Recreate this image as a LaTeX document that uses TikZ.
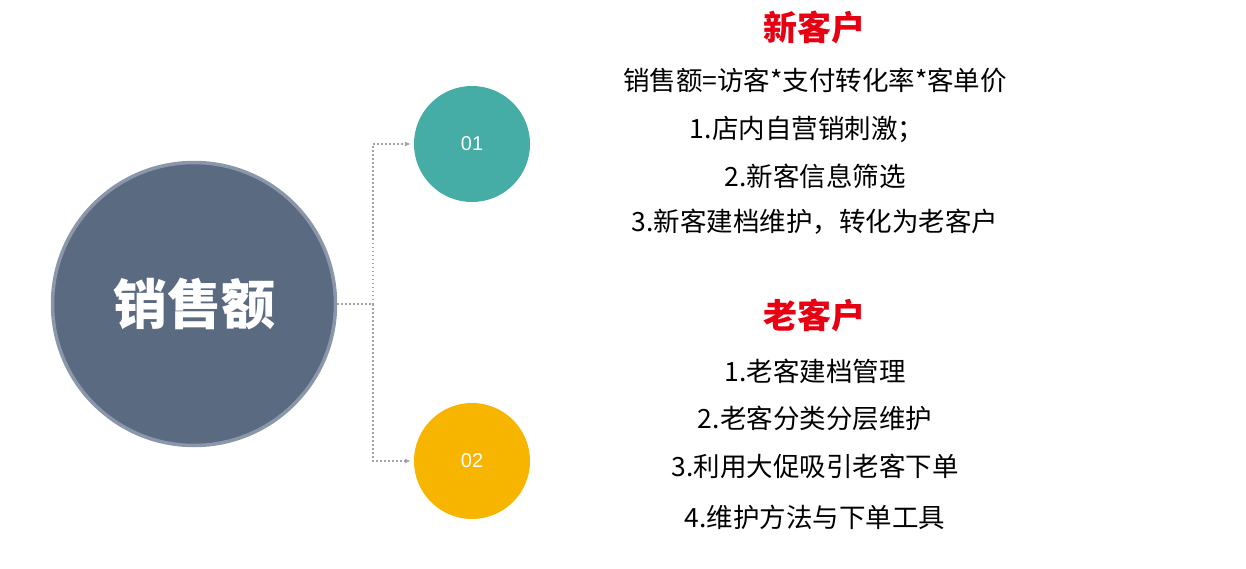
\documentclass[tikz,border=0pt]{standalone}
\usepackage{fontspec}
\setmainfont{Noto Sans CJK SC}
\newfontfamily\digitfont{Liberation Sans}
\usepackage{tikz}
\usetikzlibrary{arrows.meta,positioning}
\usepackage{xcolor}
\definecolor{slate}{HTML}{5A6A80}
\definecolor{slatering}{HTML}{8A97AB}
\definecolor{tealc}{HTML}{45ACA6}
\definecolor{goldc}{HTML}{F7B500}
\definecolor{headred}{HTML}{E60012}
\definecolor{dotgray}{HTML}{A3A3A3}

\tikzset{
  total/.style={circle, fill=slate, draw=slatering, line width=3.5pt,
    minimum size=283pt, inner sep=0pt, text=white,
    font=\fontsize{54}{60}\selectfont\bfseries},
  badge/.style={circle, minimum size=116pt, inner sep=0pt, text=white,
    font=\digitfont\fontsize{20}{24}\selectfont},
  link/.style={dotgray, line width=1.5pt, dash pattern=on 1.5pt off 2.5pt},
  head/.style={text=headred, font=\fontsize{34}{38}\selectfont\bfseries},
  item/.style={font=\fontsize{26.5}{30}\selectfont}
}

\begin{document}
\begin{tikzpicture}[x=1pt, y=-1pt, >={Latex[length=6pt,width=5pt]}]
        \useasboundingbox (0,0) rectangle (1246,569);

        \node[total] (sales) at (194,304) {销售额};
        \node[badge, fill=tealc] (new) at (472,144) {01};
        \node[badge, fill=goldc] (old) at (472,461) {02};
        \coordinate (split) at (373,304);

        % dotted branches
        \draw[link] (sales.east) -- (split);
        \draw[link, ->, shorten >=3pt] (split) |- (new.west);
        \draw[link, ->, shorten >=3pt] (split) |- (old.west);

        % new customers
        \node[head] (newhead) at (814,27) {新客户};
        \node[item] (new0) at (815,80) {销售额=访客*支付转化率*客单价};
        \node[item] (new1) at (807,129) {1.店内自营销刺激；};
        \node[item] (new2) at (815,176) {2.新客信息筛选};
        \node[item] (new3) at (815,222) {3.新客建档维护，转化为老客户};

        % old customers
        \node[head] (oldhead) at (814,315) {老客户};
        \node[item] (old1) at (815,371) {1.老客建档管理};
        \node[item] (old2) at (815,418) {2.老客分类分层维护};
        \node[item] (old3) at (815,466) {3.利用大促吸引老客下单};
        \node[item] (old4) at (815,517) {4.维护方法与下单工具};
        \end{tikzpicture}
\end{document}
